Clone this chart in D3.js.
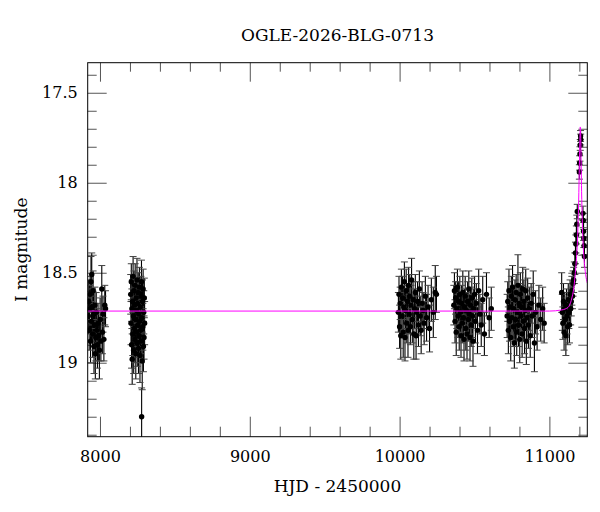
<!DOCTYPE html>
<html>
<head>
<meta charset="utf-8">
<title>OGLE-2026-BLG-0713</title>
<script src="https://d3js.org/d3.v7.min.js"></script>
<style>
  body { margin: 0; background: #fff; }
  .ax text { font-family: "DejaVu Serif", serif; font-size: 16px; fill: #000; }
  .ax line { stroke: #555; stroke-width: 1; }
  .ax path { stroke: none; }
</style>
</head>
<body>
<script>
// observations per season: [HJD - 2450000, I mag, error]
var season2017 = [
  [7922,18.74,.10],[7925,18.66,.12],[7928,18.82,.11],[7931,18.70,.13],[7934,18.62,.10],
  [7937,18.88,.12],[7940,18.55,.14],[7943,18.77,.11],[7945,18.51,.12],[7948,18.69,.10],
  [7951,18.84,.13],[7954,18.60,.11],[7957,18.73,.12],[7960,18.91,.15],[7963,18.79,.12],
  [7966,18.68,.10],[7969,18.95,.14],[7972,18.86,.13],[7975,18.72,.11],[7979,18.82,.12],
  [7983,18.90,.13],[7987,18.78,.11],[7991,18.85,.14],[7996,18.93,.16],[8001,18.76,.12],
  [8006,18.88,.11],[8012,18.59,.13],[8016,18.83,.12],[8020,18.73,.10],[8026,18.87,.12],
  [8032,18.68,.11],[8037,18.70,.10]
];
var season2018 = [
  [8205,18.62,.11],[8207,18.78,.12],[8209,18.55,.10],[8211,18.90,.13],[8213,18.70,.11],
  [8215,18.98,.14],[8217,18.66,.12],[8219,18.84,.12],[8221,18.52,.11],[8223,18.74,.10],
  [8225,18.93,.13],[8227,18.60,.11],[8229,18.81,.12],[8231,18.68,.10],[8233,18.87,.13],
  [8235,18.57,.12],[8237,18.76,.11],[8239,18.95,.14],[8241,18.64,.10],[8243,18.83,.12],
  [8245,18.71,.11],[8247,18.54,.12],[8249,18.89,.13],[8251,18.67,.10],[8253,18.79,.12],
  [8255,18.61,.11],[8257,18.92,.14],[8259,18.73,.10],[8261,18.85,.12],[8263,18.58,.11],
  [8265,18.77,.12],[8267,18.96,.15],[8269,18.69,.10],[8271,18.82,.13],[8273,18.63,.11],
  [8275,18.88,.12],[8277,18.55,.12],[8278,19.30,.16],[8280,18.75,.11],[8282,18.99,.16],
  [8284,18.66,.12],[8286,18.80,.13],[8288,18.59,.11],[8290,18.91,.14],[8292,18.72,.12],
  [8294,18.86,.12],[8296,18.64,.11],[8298,18.78,.12]
];
var season2022 = [
  [9992,18.72,.11],[9996,18.62,.10],[10000,18.80,.12],[10004,18.67,.09],[10008,18.85,.13],
  [10012,18.58,.10],[10016,18.74,.11],[10020,18.64,.12],[10024,18.83,.14],[10028,18.69,.10],
  [10032,18.55,.11],[10036,18.86,.13],[10040,18.71,.10],[10044,18.60,.12],[10048,18.78,.11],
  [10052,18.66,.09],[10056,18.82,.15],[10060,18.57,.10],[10064,18.73,.11],[10068,18.63,.12],
  [10072,18.80,.10],[10076,18.68,.11],[10080,18.54,.12],[10085,18.76,.13],[10090,18.65,.10],
  [10095,18.84,.14],[10100,18.70,.11],[10105,18.61,.10],[10110,18.85,.13],[10115,18.72,.12],
  [10120,18.66,.11],[10126,18.79,.12],[10132,18.59,.10],[10138,18.74,.11],[10144,18.82,.13],
  [10150,18.67,.12],[10157,18.71,.10],[10164,18.78,.12],[10172,18.63,.11],[10180,18.75,.13],
  [10190,18.69,.12],[10200,18.81,.13],[10212,18.65,.12],[10225,18.72,.14],[10238,18.61,.15],
  [10246,18.62,.10]
];
var season2023 = [
  [10362,18.68,.11],[10366,18.60,.10],[10370,18.77,.12],[10374,18.64,.09],[10378,18.83,.13],
  [10382,18.70,.11],[10386,18.58,.10],[10390,18.74,.12],[10394,18.66,.11],[10398,18.80,.13],
  [10402,18.62,.10],[10406,18.72,.11],[10410,18.85,.12],[10414,18.67,.10],[10418,18.78,.11],
  [10422,18.61,.12],[10426,18.75,.13],[10430,18.87,.12],[10434,18.69,.10],[10438,18.63,.11],
  [10442,18.81,.12],[10446,18.71,.10],[10450,18.84,.14],[10454,18.66,.11],[10458,18.76,.12],
  [10462,18.59,.10],[10466,18.73,.11],[10470,18.86,.13],[10474,18.68,.10],[10478,18.79,.12],
  [10482,18.64,.11],[10486,18.74,.12],[10490,18.88,.14],[10495,18.70,.11],[10500,18.62,.10],
  [10506,18.77,.12],[10512,18.67,.11],[10520,18.82,.13],[10528,18.60,.12],[10536,18.73,.11],
  [10545,18.79,.12],[10555,18.65,.13],[10566,18.84,.12],[10580,18.62,.12],[10598,18.75,.11],
  [10612,18.70,.12]
];
var season2024 = [
  [10718,18.74,.12],[10722,18.66,.11],[10726,18.82,.13],[10730,18.60,.12],[10734,18.77,.11],
  [10738,18.69,.10],[10742,18.86,.13],[10746,18.63,.11],[10750,18.75,.12],[10754,18.58,.12],
  [10758,18.80,.11],[10762,18.70,.13],[10766,18.89,.14],[10770,18.65,.11],[10774,18.76,.12],
  [10778,18.61,.10],[10782,18.83,.13],[10786,18.72,.11],[10790,18.57,.17],[10794,18.79,.12],
  [10798,18.67,.11],[10802,18.87,.13],[10806,18.62,.12],[10810,18.74,.11],[10814,18.69,.12],
  [10818,18.84,.13],[10822,18.59,.12],[10826,18.77,.11],[10830,18.66,.12],[10834,18.81,.14],
  [10838,18.71,.11],[10842,18.60,.12],[10846,18.88,.13],[10850,18.75,.12],[10855,18.64,.11],
  [10860,18.79,.13],[10866,18.70,.12],[10872,18.85,.12],[10878,18.67,.11],[10885,18.74,.12],
  [10892,18.62,.13],[10900,18.89,.16],[10908,18.72,.12],[10918,18.80,.13],[10930,18.68,.11],
  [10942,18.76,.12],[10955,18.70,.12],[10965,18.78,.11]
];
var season2025 = [
  [11082,18.61,.11],[11086,18.72,.10],[11090,18.78,.09],[11094,18.66,.10],[11098,18.83,.10],
  [11102,18.70,.09],[11106,18.76,.10],[11110,18.85,.11],[11114,18.68,.09],[11118,18.74,.10],
  [11122,18.80,.10],[11126,18.65,.09],[11130,18.72,.09],[11134,18.79,.10],[11138,18.62,.08],
  [11142,18.70,.09],[11146,18.66,.08],[11150,18.60,.08],[11154,18.63,.07],[11158,18.56,.07],
  [11162,18.54,.07],[11166,18.50,.06],[11170,18.45,.06],[11174,18.39,.06],[11177,18.34,.05],
  [11180,18.29,.05],[11183,18.23,.05],[11186,18.16,.04],[11200,17.94,.04],[11202,17.89,.04],
  [11204,17.84,.04],[11206,17.79,.03],[11208,17.74,.03],[11209,17.76,.03],[11224,18.17,.04],
  [11226,18.21,.04],[11228,18.27,.05],[11230,18.31,.05],[11232,18.35,.05],[11234,18.41,.06]
];

// fitted model
var modelHjd = [7918, 11000, 11080, 11110, 11135, 11150, 11162, 11171, 11180, 11187, 11194,
                11199, 11203, 11206, 11209, 11212, 11215, 11219, 11224, 11232, 11242, 11253];
var modelMag = [18.713, 18.713, 18.707, 18.70, 18.68, 18.64, 18.59, 18.52, 18.43, 18.33, 18.15,
                17.95, 17.78, 17.69, 17.74, 17.90, 18.05, 18.20, 18.32, 18.43, 18.51, 18.557];

var yMajor = [17.5, 18, 18.5, 19];
var xMajor = [8000, 9000, 10000, 11000];

var title = "OGLE-2026-BLG-0713";
var xLabel = "HJD - 2450000";
var yLabel = "I magnitude";

var data = [].concat(season2017, season2018, season2022, season2023, season2024, season2025);

var W = 600, H = 512;
var margin = {top: 62.7, right: 12.7, bottom: 75.3, left: 87.7},
    width = W - margin.left - margin.right,
    height = H - margin.top - margin.bottom;

var x = d3.scaleLinear().domain([7918, 11253]).range([0, width]);
var y = d3.scaleLinear().domain([17.333, 19.411]).range([0, height]);

var svg = d3.select("body").append("svg")
    .attr("width", W)
    .attr("height", H);

var g = svg.append("g")
    .attr("transform", "translate(" + margin.left + "," + margin.top + ")");

g.append("clipPath").attr("id", "clip")
  .append("rect").attr("width", width).attr("height", height);

// minor ticks
var yMinor = d3.range(17.4, 19.41, 0.1).map(function(d) { return +d.toFixed(1); })
    .filter(function(d) { return yMajor.indexOf(d) < 0; });
var xMinor = d3.range(8000, 11253, 200).filter(function(d) { return xMajor.indexOf(d) < 0; });

g.append("g").attr("class", "ax")
  .call(d3.axisLeft(y).tickValues(yMinor).tickSize(-9).tickFormat(""));
g.append("g").attr("class", "ax").attr("transform", "translate(" + width + ",0)")
  .call(d3.axisRight(y).tickValues(yMinor).tickSize(-9).tickFormat(""));
g.append("g").attr("class", "ax").attr("transform", "translate(0," + height + ")")
  .call(d3.axisBottom(x).tickValues(xMinor).tickSize(-10).tickFormat(""));
g.append("g").attr("class", "ax")
  .call(d3.axisTop(x).tickValues(xMinor).tickSize(-9).tickFormat(""));

// major ticks
g.append("g").attr("class", "ax")
  .call(d3.axisLeft(y).tickValues(yMajor).tickSize(-19).tickPadding(10)
        .tickFormat(function(d) { return d3.format("")(d); }))
  .attr("font-family", null).attr("font-size", null);
g.append("g").attr("class", "ax").attr("transform", "translate(" + width + ",0)")
  .call(d3.axisRight(y).tickValues(yMajor).tickSize(-19).tickFormat(""));
g.append("g").attr("class", "ax").attr("transform", "translate(0," + height + ")")
  .call(d3.axisBottom(x).tickValues(xMajor).tickSize(-20).tickPadding(14).tickFormat(d3.format("d")))
  .attr("font-family", null).attr("font-size", null);
g.append("g").attr("class", "ax")
  .call(d3.axisTop(x).tickValues(xMajor).tickSize(-19).tickFormat(""));

// data
var pts = g.append("g").attr("clip-path", "url(#clip)");

pts.selectAll(".bar").data(data).enter().append("line")
  .attr("x1", function(d) { return x(d[0]); })
  .attr("x2", function(d) { return x(d[0]); })
  .attr("y1", function(d) { return y(d[1] - d[2]); })
  .attr("y2", function(d) { return y(d[1] + d[2]); })
  .attr("stroke", "#000").attr("stroke-width", 1.1);

[1, -1].forEach(function(s) {
  pts.selectAll(".cap" + s).data(data).enter().append("line")
    .attr("x1", function(d) { return x(d[0]) - 3.5; })
    .attr("x2", function(d) { return x(d[0]) + 3.5; })
    .attr("y1", function(d) { return y(d[1] + s * d[2]); })
    .attr("y2", function(d) { return y(d[1] + s * d[2]); })
    .attr("stroke", "#444").attr("stroke-width", 1);
});

pts.selectAll("circle").data(data).enter().append("circle")
  .attr("cx", function(d) { return x(d[0]); })
  .attr("cy", function(d) { return y(d[1]); })
  .attr("r", 2.7)
  .attr("fill", "#000");

var model = modelHjd.map(function(t, i) { return [t, modelMag[i]]; });
pts.append("path").datum(model)
  .attr("fill", "none")
  .attr("stroke", "#ff00ff")
  .attr("stroke-width", 1)
  .attr("d", d3.line()
    .x(function(d) { return x(d[0]); })
    .y(function(d) { return y(d[1]); })
    .curve(d3.curveMonotoneX));

// frame
g.append("rect")
  .attr("width", width).attr("height", height)
  .attr("fill", "none").attr("stroke", "#000").attr("stroke-width", 1);

// labels
svg.append("text")
  .attr("x", margin.left + width / 2).attr("y", 40.7)
  .attr("text-anchor", "middle")
  .style("font-family", "DejaVu Serif, serif").style("font-size", "17px")
  .text(title);

svg.append("text")
  .attr("x", margin.left + width / 2).attr("y", 491.5)
  .attr("text-anchor", "middle")
  .style("font-family", "DejaVu Serif, serif").style("font-size", "17px")
  .text(xLabel);

svg.append("text")
  .attr("transform", "translate(27," + (margin.top + 187) + ") rotate(-90)")
  .attr("text-anchor", "middle")
  .style("font-family", "DejaVu Serif, serif").style("font-size", "17px")
  .text(yLabel);
</script>
</body>
</html>
